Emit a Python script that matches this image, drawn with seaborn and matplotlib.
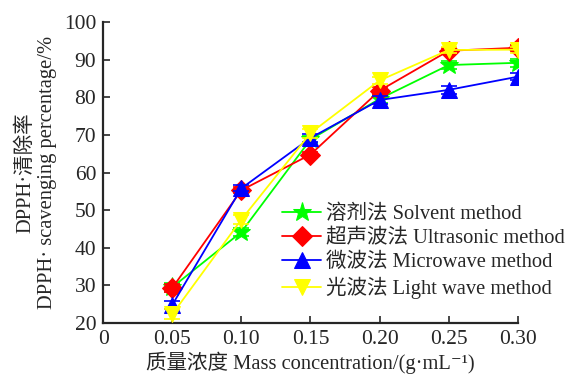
import numpy as np
import pandas as pd
import seaborn as sns
import matplotlib.pyplot as plt

# values
conc = [0.05, 0.10, 0.15, 0.20, 0.25, 0.30]
solvent = [29.5, 44.2, 68.8, 79.6, 88.6, 89.2]
ultrasonic = [29.3, 55.3, 64.8, 81.8, 92.4, 93.2]
microwave = [24.8, 55.8, 69.2, 79.3, 82.0, 85.5]
light = [22.3, 47.5, 70.5, 84.5, 92.6, 92.7]
err_solvent = [1.2, 1.0, 1.0, 1.0, 1.0, 1.0]
err_ultrasonic = [1.0, 0.8, 0.8, 1.0, 0.8, 0.8]
err_microwave = [1.0, 0.8, 1.0, 1.0, 1.0, 1.0]
err_light = [1.3, 1.2, 1.2, 1.0, 0.8, 0.8]

labels = ['溶剂法 Solvent method', '超声波法 Ultrasonic method',
          '微波法 Microwave method', '光波法 Light wave method']

series = [solvent, ultrasonic, microwave, light]
errs = [err_solvent, err_ultrasonic, err_microwave, err_light]

df = pd.DataFrame({
    'conc': conc * 4,
    'value': solvent + ultrasonic + microwave + light,
    'method': [m for m in labels for _ in conc],
})

sns.set_style('ticks')
plt.rcParams['font.family'] = ['Liberation Serif', 'Noto Sans CJK SC', 'DejaVu Serif']

colors = ['#00ff00', '#ff0000', '#0000ff', '#ffff00']
markers = ['*', 'D', '^', 'v']
msizes = [14, 10, 11, 12]
fs = 14.8

fig = plt.figure(figsize=(5.76, 3.76), dpi=100)
ax = fig.add_axes([0.179, 0.141, 0.72, 0.8])

for i, lab in enumerate(labels):
    ax.errorbar(conc, series[i], yerr=errs[i], fmt='none', ecolor=colors[i],
                elinewidth=1.2, capsize=6, capthick=1.2, zorder=2 + i)
    sns.lineplot(data=df[df.method == lab], x='conc', y='value', ax=ax,
                 color=colors[i], marker=markers[i], markersize=msizes[i],
                 markeredgecolor=colors[i], linewidth=1.3, label=lab,
                 zorder=3 + i)

ax.set_xlim(0, 0.30)
ax.set_ylim(20, 100)
ax.set_xticks([0, 0.05, 0.10, 0.15, 0.20, 0.25, 0.30])
ax.set_xticklabels(['0', '0.05', '0.10', '0.15', '0.20', '0.25', '0.30'])
ax.set_yticks(range(20, 101, 10))
ax.tick_params(direction='in', length=5, width=1.2, labelsize=15.5, pad=5)
for s in ['left', 'bottom']:
    ax.spines[s].set_linewidth(1.6)
sns.despine(ax=ax)

ax.set_xlabel('质量浓度 Mass concentration/(g·mL⁻¹)', fontsize=fs, labelpad=2)
ax.set_ylabel('DPPH·清除率\nDPPH· scavenging percentage/%', fontsize=fs,
              labelpad=5, linespacing=1.15)

ax.legend(loc='upper left', bbox_to_anchor=(0.49, 0.455),
          bbox_transform=fig.transFigure, frameon=False, fontsize=fs,
          handlelength=1.9, handletextpad=0.25, labelspacing=0.22,
          borderaxespad=0, borderpad=0)

fig.savefig('out.png', dpi=100)
